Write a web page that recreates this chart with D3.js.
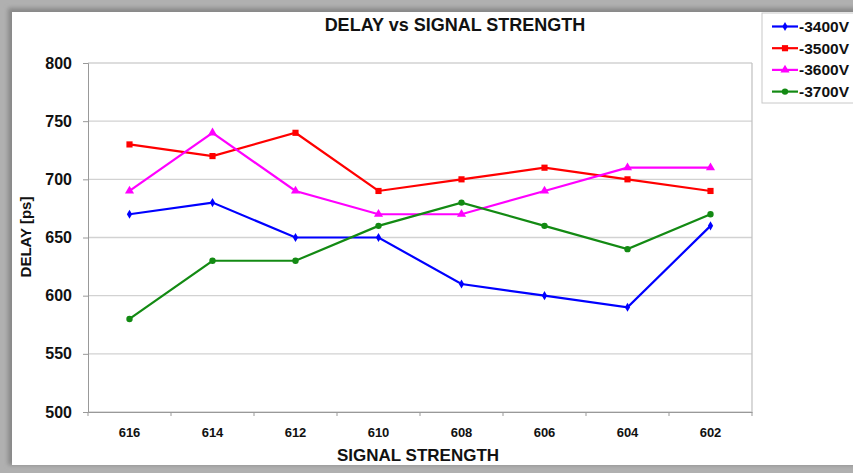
<!DOCTYPE html>
<html>
<head>
<meta charset="utf-8">
<script src="https://cdn.jsdelivr.net/npm/d3@7"></script>
<style>
  body { margin: 0; background: #fff; }
  text { font-family: "Liberation Sans", Arial, sans-serif; font-weight: bold; fill: #111; }
</style>
</head>
<body>
<div id="chart"></div>
<script>
// Data
const categories = ["616", "614", "612", "610", "608", "606", "604", "602"];
const seriesNames = ["-3400V", "-3500V", "-3600V", "-3700V"];
const v3400 = [670, 680, 650, 650, 610, 600, 590, 660];
const v3500 = [730, 720, 740, 690, 700, 710, 700, 690];
const v3600 = [690, 740, 690, 670, 670, 690, 710, 710];
const v3700 = [580, 630, 630, 660, 680, 660, 640, 670];
const yTicks = [500, 550, 600, 650, 700, 750, 800];

const colors = ["#0000ff", "#ff0000", "#ff00ff", "#138a13"];
const symbols = [d3.symbolDiamond, d3.symbolSquare, d3.symbolTriangle, d3.symbolCircle];
const symSizes = [24, 38, 36, 32];

const series = [v3400, v3500, v3600, v3700].map((vals, i) => ({
  name: seriesNames[i],
  values: vals,
  color: colors[i],
  symbol: symbols[i],
  size: symSizes[i]
}));

const W = 853, H = 473;
const plot = { left: 88, top: 63, right: 752, bottom: 412 };

const svg = d3.select("#chart").append("svg")
  .attr("width", W).attr("height", H);

// Frame with shadow
const defs = svg.append("defs");
const f = defs.append("filter").attr("id", "blur").attr("x", "-5%").attr("y", "-5%").attr("width", "110%").attr("height", "110%");
f.append("feGaussianBlur").attr("stdDeviation", 2);

svg.append("rect").attr("width", W).attr("height", H).attr("fill", "#b0b0b0");
svg.append("rect").attr("x", 8).attr("y", 8).attr("width", W).attr("height", 457)
  .attr("fill", "#888").attr("filter", "url(#blur)");
svg.append("rect").attr("x", 12).attr("y", 12).attr("width", W).attr("height", 453)
  .attr("fill", "#fff");

// Scales
const x = d3.scaleBand().domain(categories).range([plot.left, plot.right]);
const y = d3.scaleLinear().domain([500, 800]).range([plot.bottom, plot.top]);

// Gridlines
svg.append("g")
  .selectAll("line")
  .data(yTicks)
  .join("line")
  .attr("x1", plot.left).attr("x2", plot.right)
  .attr("y1", d => y(d)).attr("y2", d => y(d))
  .attr("stroke", "#d2d2d2").attr("stroke-width", 1.3);

// Right border
svg.append("line")
  .attr("x1", plot.right).attr("x2", plot.right)
  .attr("y1", plot.top).attr("y2", plot.bottom)
  .attr("stroke", "#c4c4c4").attr("stroke-width", 1.3);

// Y axis
const yAxis = svg.append("g")
  .attr("transform", "translate(" + plot.left + ",0)")
  .call(d3.axisLeft(y).tickValues(yTicks).tickSize(5).tickPadding(11));
yAxis.select(".domain").attr("stroke", "#999");
yAxis.selectAll(".tick line").attr("stroke", "#999");
yAxis.selectAll("text").style("font-size", "16px").attr("fill", "#111");

// X axis
const xAxis = svg.append("g")
  .attr("transform", "translate(0," + plot.bottom + ")")
  .call(d3.axisBottom(x).tickSize(0).tickPadding(16));
xAxis.select(".domain").attr("stroke", "#999");
xAxis.selectAll("text").style("font-size", "13px").attr("fill", "#111");
xAxis.selectAll(".sep")
  .data(d3.range(categories.length + 1))
  .join("line")
  .attr("class", "sep")
  .attr("x1", i => plot.left + i * x.step())
  .attr("x2", i => plot.left + i * x.step())
  .attr("y1", 0).attr("y2", 4)
  .attr("stroke", "#999");

// Lines and markers
const line = d3.line()
  .x((d, i) => x(categories[i]) + x.bandwidth() / 2)
  .y(d => y(d));

series.forEach(s => {
  svg.append("path")
    .datum(s.values)
    .attr("fill", "none")
    .attr("stroke", s.color)
    .attr("stroke-width", 2.2)
    .attr("d", line);
  svg.append("g")
    .selectAll("path")
    .data(s.values)
    .join("path")
    .attr("transform", (d, i) => "translate(" + (x(categories[i]) + x.bandwidth() / 2) + "," + y(d) + ")")
    .attr("d", d3.symbol().type(s.symbol).size(s.size))
    .attr("fill", s.color);
});

// Titles
svg.append("text")
  .attr("x", 455).attr("y", 31)
  .attr("text-anchor", "middle")
  .style("font-size", "18px")
  .text("DELAY vs SIGNAL STRENGTH");

svg.append("text")
  .attr("x", 418).attr("y", 461)
  .attr("text-anchor", "middle")
  .style("font-size", "17px")
  .text("SIGNAL STRENGTH");

svg.append("text")
  .attr("transform", "translate(31,237) rotate(-90)")
  .attr("text-anchor", "middle")
  .style("font-size", "15px")
  .text("DELAY [ps]");

// Legend
const legend = svg.append("g").attr("transform", "translate(762,13)");
legend.append("rect")
  .attr("x", 0).attr("y", 0).attr("width", 96).attr("height", 90)
  .attr("fill", "#fff").attr("stroke", "#c8c8c8");

const item = legend.selectAll(".item")
  .data(series)
  .join("g")
  .attr("class", "item")
  .attr("transform", (d, i) => "translate(0," + (13.5 + i * 21.7) + ")");
item.append("line")
  .attr("x1", 10).attr("x2", 36).attr("y1", 0).attr("y2", 0)
  .attr("stroke", d => d.color).attr("stroke-width", 2.2);
item.append("path")
  .attr("transform", "translate(23,0)")
  .attr("d", d => d3.symbol().type(d.symbol).size(d.size)())
  .attr("fill", d => d.color);
item.append("text")
  .attr("x", 37).attr("y", 5.5)
  .style("font-size", "15.5px")
  .text(d => d.name);
</script>
</body>
</html>
